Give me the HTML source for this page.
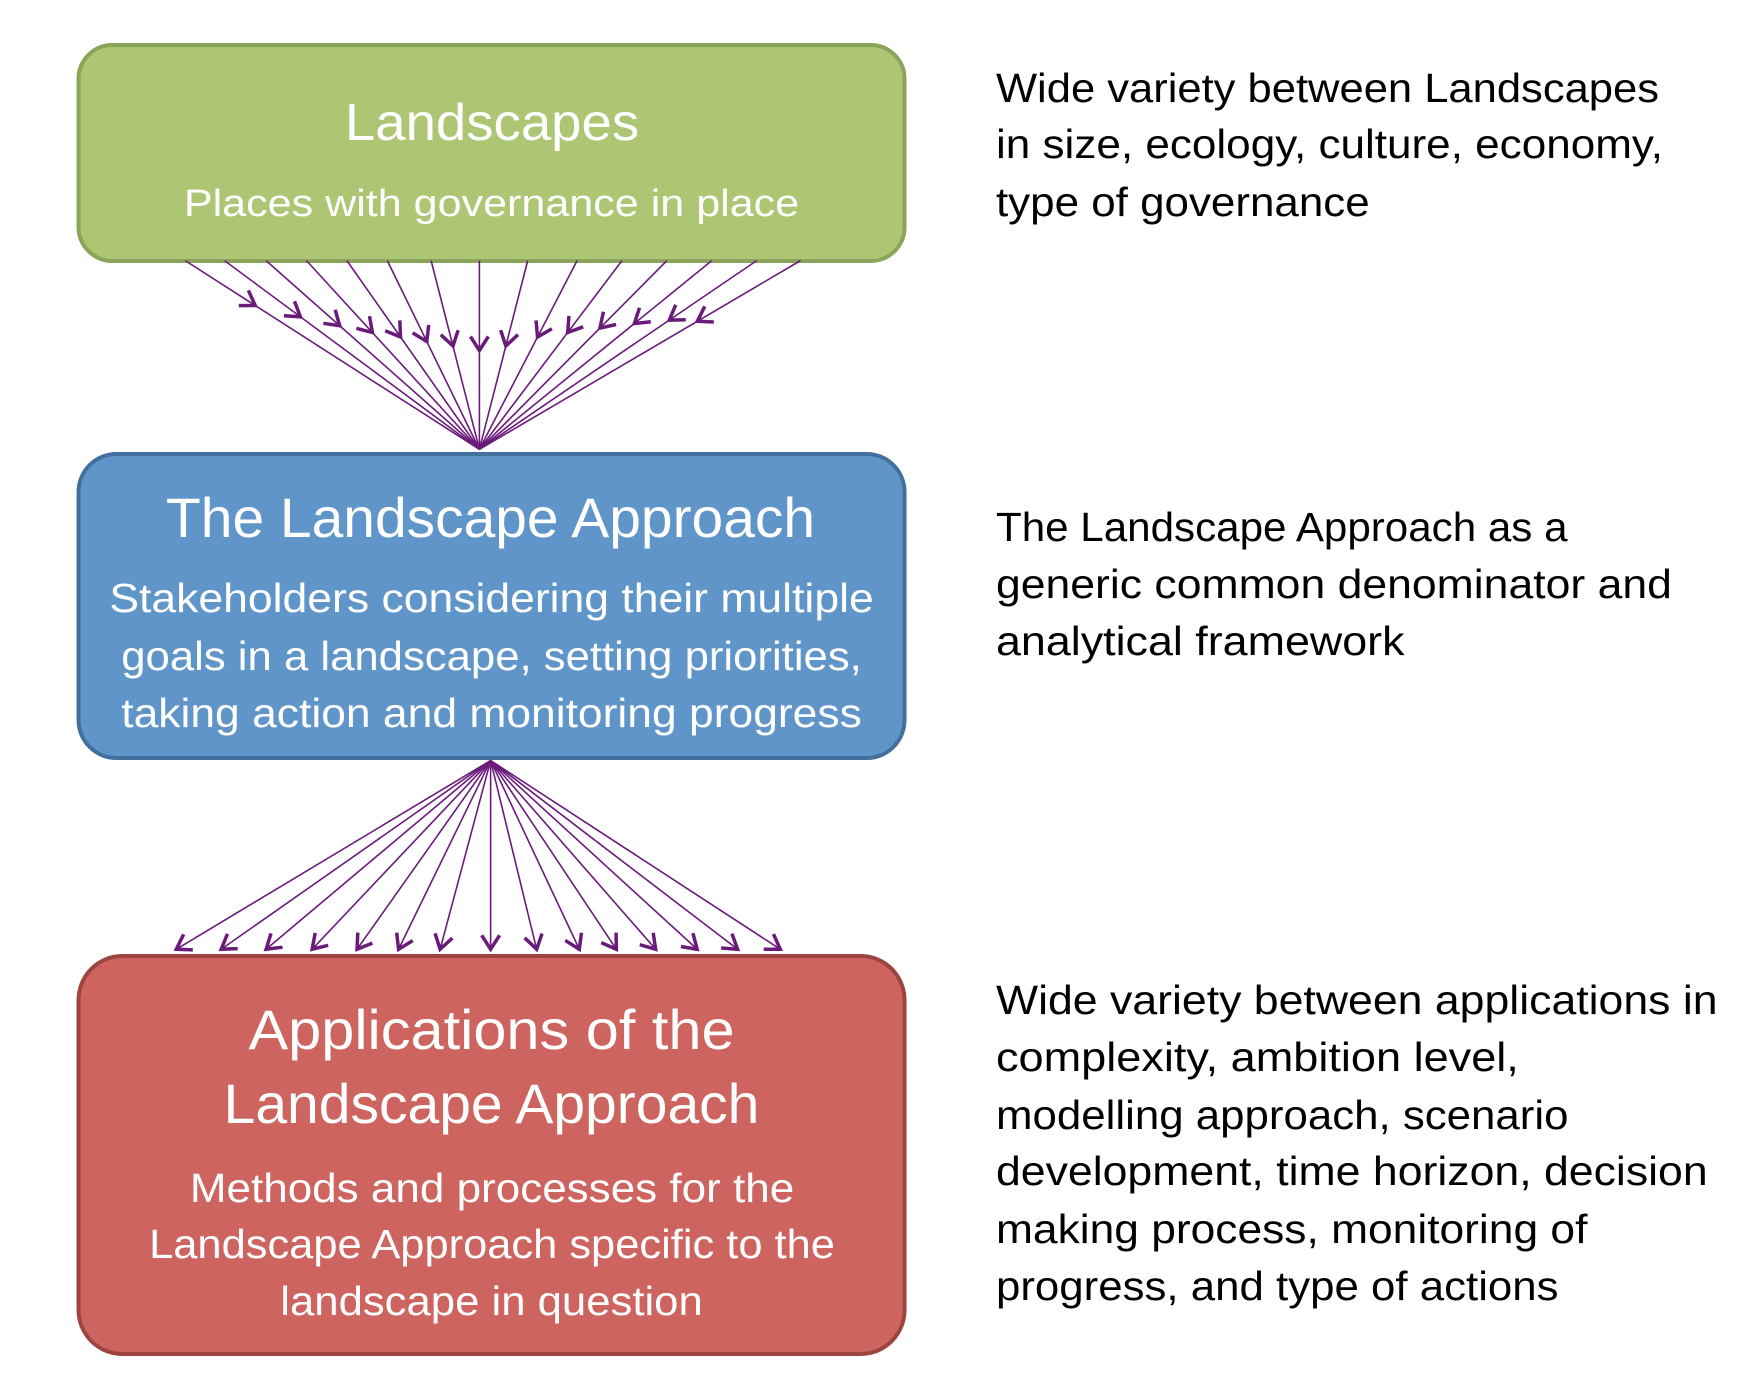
<!DOCTYPE html>
<html><head><meta charset="utf-8"><style>
html,body{margin:0;padding:0;background:#fff}
svg{display:block}
text{font-family:"Liberation Sans",Carlito,sans-serif}
</style></head><body>
<svg id="s" width="1762" height="1393" viewBox="0 0 1762 1393" xmlns="http://www.w3.org/2000/svg">
<g transform="scale(0.994,1)">
<rect x="79" y="45" width="831" height="216" rx="34" fill="#acc673" stroke="#8aa55a" stroke-width="4"/>
<rect x="79" y="454" width="831" height="304" rx="38" fill="#6095c9" stroke="#41709c" stroke-width="4"/>
<rect x="79" y="956" width="831" height="398" rx="44" fill="#cd6460" stroke="#9e4440" stroke-width="4"/>
<g id="arr" fill="none" stroke="#6a1b7a"></g>
<g fill="#fff">
<text x="347" y="140" font-size="52" textLength="296" lengthAdjust="spacingAndGlyphs">Landscapes</text>
<text x="185" y="216" font-size="38" textLength="619" lengthAdjust="spacingAndGlyphs">Places with governance in place</text>
<text x="167" y="537" font-size="56" textLength="653" lengthAdjust="spacingAndGlyphs">The Landscape Approach</text>
<text x="110" y="612" font-size="41" textLength="769" lengthAdjust="spacingAndGlyphs">Stakeholders considering their multiple</text>
<text x="122" y="670" font-size="41" textLength="745" lengthAdjust="spacingAndGlyphs">goals in a landscape, setting priorities,</text>
<text x="122" y="727" font-size="41" textLength="745" lengthAdjust="spacingAndGlyphs">taking action and monitoring progress</text>
<text x="250" y="1049" font-size="56" textLength="489" lengthAdjust="spacingAndGlyphs">Applications of the</text>
<text x="225" y="1123" font-size="56" textLength="539" lengthAdjust="spacingAndGlyphs">Landscape Approach</text>
<text x="191" y="1202" font-size="41" textLength="608" lengthAdjust="spacingAndGlyphs">Methods and processes for the</text>
<text x="150" y="1258" font-size="41" textLength="690" lengthAdjust="spacingAndGlyphs">Landscape Approach specific to the</text>
<text x="282" y="1315" font-size="41" textLength="425" lengthAdjust="spacingAndGlyphs">landscape in question</text>
</g>
<g fill="#000" font-size="41">
<text x="1002" y="102" textLength="667" lengthAdjust="spacingAndGlyphs">Wide variety between Landscapes</text>
<text x="1002" y="158" textLength="671" lengthAdjust="spacingAndGlyphs">in size, ecology, culture, economy,</text>
<text x="1002" y="216" textLength="376" lengthAdjust="spacingAndGlyphs">type of governance</text>
<text x="1002" y="541" textLength="575" lengthAdjust="spacingAndGlyphs">The Landscape Approach as a</text>
<text x="1002" y="598" textLength="680" lengthAdjust="spacingAndGlyphs">generic common denominator and</text>
<text x="1002" y="655" textLength="411" lengthAdjust="spacingAndGlyphs">analytical framework</text>
<text x="1002" y="1014" textLength="726" lengthAdjust="spacingAndGlyphs">Wide variety between applications in</text>
<text x="1002" y="1071" textLength="526" lengthAdjust="spacingAndGlyphs">complexity, ambition level,</text>
<text x="1002" y="1129" textLength="576" lengthAdjust="spacingAndGlyphs">modelling approach, scenario</text>
<text x="1002" y="1185" textLength="716" lengthAdjust="spacingAndGlyphs">development, time horizon, decision</text>
<text x="1002" y="1243" textLength="595" lengthAdjust="spacingAndGlyphs">making process, monitoring of</text>
<text x="1002" y="1300" textLength="566" lengthAdjust="spacingAndGlyphs">progress, and type of actions</text>
</g>
</g>
</svg>
<script>
(function(){
var g=document.getElementById('arr'),NS='http://www.w3.org/2000/svg',sx=1762/1560,sy=1393/1240;
function line(x1,y1,x2,y2,w){var l=document.createElementNS(NS,'line');l.setAttribute('x1',x1);l.setAttribute('y1',y1);l.setAttribute('x2',x2);l.setAttribute('y2',y2);l.setAttribute('stroke-width',w);g.appendChild(l);}
function head(x,y,dx,dy){var L=Math.hypot(dx,dy);dx/=L;dy/=L;var s=14,w=9;
var p=document.createElementNS(NS,'polyline');
p.setAttribute('points',(x-dx*s+dy*w)+','+(y-dy*s-dx*w)+' '+x+','+y+' '+(x-dx*s-dy*w)+','+(y-dy*s+dx*w));
p.setAttribute('stroke-width',3.5);p.setAttribute('stroke-linejoin','miter');g.appendChild(p);}
var tops=[165,200,237,273,309,345,384,427,470,514,554,594,634,674,713];
var ay=[272,282,290,296,300,304,308,312,308,300,296,292,288,285,286];
var cx=427*sx,cy=400*sy;
tops.forEach(function(x,i){var x0=x*sx,y0=232*sy;line(x0,y0,cx,cy,1.6);
var t=(ay[i]*sy-y0)/(cy-y0);head(x0+(cx-x0)*t,y0+(cy-y0)*t,cx-x0,cy-y0);});
var bots=[157,197,237,278,318,355,392,437,478,516,549,584,621,657,695];
var bx=437*sx,by=677*sy;
bots.forEach(function(x){var x1=x*sx,y1=845*sy;line(bx,by,x1,y1,1.6);head(x1,y1,x1-bx,y1-by);});
})();
</script>
</body></html>
